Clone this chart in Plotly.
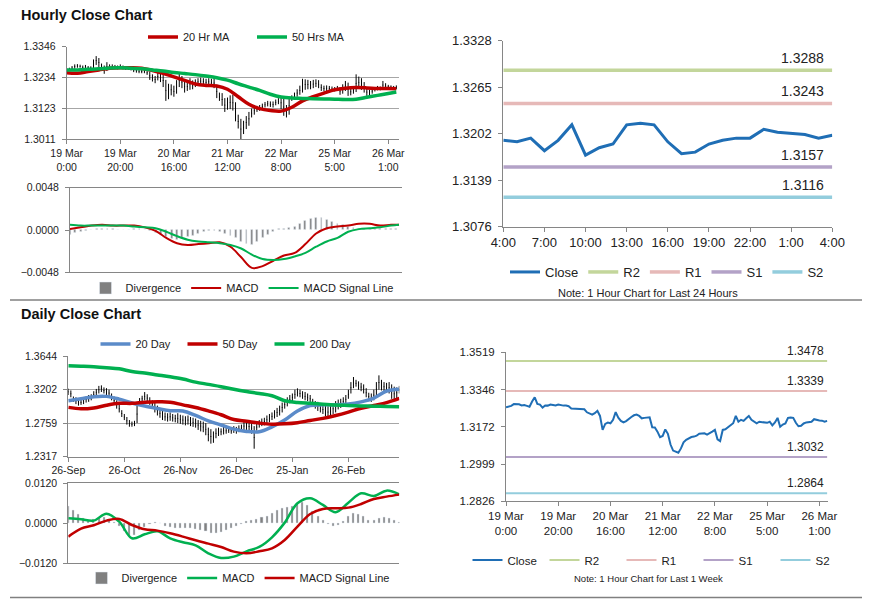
import plotly.graph_objects as go

W, H = 873, 601          # reference picture size
OFF = 8                  # the page body margin shifts the figure by 8 px
FW, FH = W - OFF, H - OFF

# ---------------- hourly data (trading hours, 19 Mar 0:00 .. 26 Mar 3:00) ----------------
hourly_close = [
    1.3263, 1.3266, 1.3270, 1.3278, 1.3279, 1.3277, 1.3272, 1.3274, 1.3270, 1.3266,
    1.3290, 1.3310, 1.3279, 1.3276, 1.3262, 1.3272, 1.3271, 1.3276, 1.3274, 1.3272,
    1.3276, 1.3272, 1.3271, 1.3271, 1.3268, 1.3258, 1.3257, 1.3257, 1.3256, 1.3257,
    1.3254, 1.3240, 1.3233, 1.3229, 1.3236, 1.3247, 1.3223, 1.3158, 1.3186, 1.3192,
    1.3189, 1.3205, 1.3241, 1.3215, 1.3200, 1.3193, 1.3199, 1.3210, 1.3218, 1.3226,
    1.3229, 1.3223, 1.3212, 1.3214, 1.3215, 1.3217, 1.3170, 1.3169, 1.3150, 1.3124,
    1.3130, 1.3160, 1.3140, 1.3090, 1.3062, 1.3055, 1.3052, 1.3072, 1.3100, 1.3112,
    1.3120, 1.3125, 1.3127, 1.3131, 1.3140, 1.3142, 1.3142, 1.3136, 1.3145, 1.3150,
    1.3158, 1.3114, 1.3106, 1.3158, 1.3161, 1.3170, 1.3180, 1.3189, 1.3223, 1.3196,
    1.3205, 1.3200, 1.3212, 1.3223, 1.3205, 1.3196, 1.3189, 1.3196, 1.3194,
    1.3193, 1.3191, 1.3196, 1.3179, 1.3193, 1.3214, 1.3173, 1.3183, 1.3188, 1.3214,
    1.3216, 1.3214, 1.3191, 1.3175, 1.3177, 1.3188, 1.3193, 1.3196, 1.3196, 1.3208,
    1.3204, 1.3202, 1.3201, 1.3196, 1.3200,
]
hourly_high = [
    1.3268, 1.3270, 1.3276, 1.3282, 1.3283, 1.3281, 1.3278, 1.3280, 1.3276, 1.3275,
    1.3300, 1.3312, 1.3305, 1.3285, 1.3278, 1.3290, 1.3282, 1.3282, 1.3280, 1.3278,
    1.3282, 1.3278, 1.3276, 1.3275, 1.3274, 1.3270, 1.3266, 1.3264, 1.3262, 1.3262,
    1.3260, 1.3256, 1.3246, 1.3240, 1.3252, 1.3256, 1.3248, 1.3226, 1.3212, 1.3210,
    1.3205, 1.3225, 1.3248, 1.3240, 1.3222, 1.3218, 1.3232, 1.3224, 1.3228, 1.3232,
    1.3234, 1.3232, 1.3230, 1.3232, 1.3230, 1.3234, 1.3208, 1.3180, 1.3178, 1.3160,
    1.3162, 1.3170, 1.3172, 1.3145, 1.3100, 1.3085, 1.3078, 1.3095, 1.3110, 1.3122,
    1.3128, 1.3132, 1.3135, 1.3140, 1.3146, 1.3150, 1.3148, 1.3148, 1.3155, 1.3160,
    1.3166, 1.3160, 1.3135, 1.3165, 1.3170, 1.3180, 1.3192, 1.3205, 1.3230, 1.3228,
    1.3226, 1.3222, 1.3226, 1.3228, 1.3225, 1.3210, 1.3205, 1.3206, 1.3204, 1.3202,
    1.3200, 1.3204, 1.3200, 1.3210, 1.3222, 1.3216, 1.3196, 1.3200, 1.3246, 1.3238,
    1.3232, 1.3218, 1.3196, 1.3190, 1.3196, 1.3200, 1.3204, 1.3202, 1.3222, 1.3214,
    1.3208, 1.3206, 1.3204, 1.3206,
]
hourly_low = [
    1.3258, 1.3260, 1.3262, 1.3266, 1.3270, 1.3270, 1.3266, 1.3268, 1.3264, 1.3262,
    1.3264, 1.3280, 1.3272, 1.3268, 1.3248, 1.3258, 1.3262, 1.3266, 1.3266, 1.3264,
    1.3268, 1.3264, 1.3262, 1.3262, 1.3260, 1.3254, 1.3252, 1.3250, 1.3250, 1.3250,
    1.3244, 1.3226, 1.3220, 1.3214, 1.3224, 1.3218, 1.3200, 1.3150, 1.3156, 1.3170,
    1.3165, 1.3176, 1.3200, 1.3196, 1.3180, 1.3186, 1.3190, 1.3192, 1.3200, 1.3206,
    1.3210, 1.3208, 1.3204, 1.3206, 1.3205, 1.3196, 1.3160, 1.3150, 1.3132, 1.3110,
    1.3118, 1.3120, 1.3115, 1.3076, 1.3050, 1.3011, 1.3030, 1.3048, 1.3060, 1.3090,
    1.3100, 1.3110, 1.3114, 1.3118, 1.3126, 1.3130, 1.3128, 1.3126, 1.3134, 1.3138,
    1.3120, 1.3096, 1.3090, 1.3100, 1.3150, 1.3155, 1.3165, 1.3172, 1.3180, 1.3190,
    1.3192, 1.3192, 1.3196, 1.3200, 1.3196, 1.3186, 1.3184, 1.3186, 1.3186, 1.3184,
    1.3184, 1.3186, 1.3172, 1.3176, 1.3186, 1.3168, 1.3170, 1.3176, 1.3182, 1.3196,
    1.3190, 1.3180, 1.3168, 1.3170, 1.3176, 1.3184, 1.3188, 1.3188, 1.3192, 1.3194,
    1.3194, 1.3194, 1.3190, 1.3192,
]
hour_labels = ["19 Mar<br>0:00", "19 Mar<br>20:00", "20 Mar<br>16:00", "21 Mar<br>12:00",
               "22 Mar<br>8:00", "25 Mar<br>5:00", "26 Mar<br>1:00"]

# moving averages / MACD read every 4 hours
ma_hours = [0, 4, 8, 12, 16, 20, 24, 28, 32, 36, 40, 44, 48, 52, 56, 60,
            64, 68, 72, 76, 80, 84, 88, 92, 96, 100, 104, 108, 112, 116, 120, 123]
ma20_hr = [1.3252, 1.3250, 1.3256, 1.3262, 1.3268, 1.3270, 1.3270, 1.3268, 1.3260, 1.3250,
           1.3237, 1.3224, 1.3211, 1.3206, 1.3204, 1.3192, 1.3165, 1.3138, 1.3122, 1.3115,
           1.3113, 1.3127, 1.3150, 1.3165, 1.3178, 1.3190, 1.3196, 1.3198, 1.3197, 1.3195,
           1.3195, 1.3194]
ma50_hr = [1.3262, 1.3262, 1.3264, 1.3266, 1.3269, 1.3270, 1.3268, 1.3266, 1.3262, 1.3258,
           1.3253, 1.3249, 1.3245, 1.3240, 1.3234, 1.3225, 1.3212, 1.3200, 1.3188, 1.3174,
           1.3164, 1.3160, 1.3159, 1.3158, 1.3157, 1.3156, 1.3155, 1.3156, 1.3163, 1.3170,
           1.3177, 1.3182]
macd_hr = [0.0001, 0.0003, 0.0005, 0.0006, 0.0005, 0.0005, 0.0005, 0.0003, -0.0001, -0.0009,
           -0.0015, -0.0017, -0.0016, -0.0015, -0.0014, -0.0019, -0.0031, -0.0043, -0.0041, -0.0035,
           -0.0029, -0.0026, -0.0016, -0.0004, 0.0002, 0.0004, 0.0005, 0.0007, 0.0007, 0.0005,
           0.0006, 0.0006]
signal_hr = [0.0006, 0.0005, 0.0005, 0.0005, 0.0005, 0.0005, 0.0004, 0.0003, 0.0002, -0.0002,
             -0.0007, -0.0011, -0.0013, -0.0014, -0.0015, -0.0017, -0.0021, -0.0028, -0.0033, -0.0034,
             -0.0033, -0.0030, -0.0026, -0.0019, -0.0013, -0.0009, -0.0002, 0.0001, 0.0002, 0.0003,
             0.0005, 0.0006]
div_hours = list(range(0, 124, 2))
div_hr = [-0.0005, -0.0003, -0.0002, -0.0001, 0.0000, 0.0001, 0.0001, 0.0001, 0.0001, 0.0000,
          0.0000, 0.0000, 0.0001, 0.0001, 0.0000, -0.0001, -0.0003, -0.0005, -0.0008, -0.0010,
          -0.0011, -0.0009, -0.0008, -0.0006, -0.0004, -0.0002, -0.0001, -0.0001, -0.0002, -0.0004,
          -0.0006, -0.0009, -0.0013, -0.0016, -0.0017, -0.0013, -0.0009, -0.0005, -0.0002, 0.0001,
          0.0002, 0.0003, 0.0004, 0.0007, 0.0011, 0.0013, 0.0014, 0.0014, 0.0012, 0.0009,
          0.0007, 0.0006, 0.0004, 0.0003, 0.0002, 0.0002, 0.0002, 0.0001, 0.0001, 0.0001,
          0.0001, 0.0001]

# last 24 hours (4:00 .. 4:00) and pivot levels
day_hour_labels = ["4:00", "7:00", "10:00", "13:00", "16:00", "19:00", "22:00", "1:00", "4:00"]
levels_24h = {"R2": 1.3288, "R1": 1.3243, "S1": 1.3157, "S2": 1.3116}
levels_week = {"R2": 1.3478, "R1": 1.3339, "S1": 1.3032, "S2": 1.2864}

# ---------------- daily data (26 Sep .. late Mar) ----------------
day_high = [
    1.3214, 1.3190, 1.3110, 1.3100, 1.3080, 1.3070, 1.3100, 1.3110, 1.3130, 1.3140,
    1.3180, 1.3210, 1.3250, 1.3257, 1.3230, 1.3220, 1.3200, 1.3150, 1.3110, 1.3060,
    1.3000, 1.2930, 1.2880, 1.2840, 1.2800, 1.2780, 1.2790, 1.3000, 1.3090, 1.3120,
    1.3169, 1.3140, 1.3100, 1.3060, 1.3030, 1.2990, 1.2950, 1.2920, 1.2900, 1.2890,
    1.2900, 1.2880, 1.2870, 1.2890, 1.2870, 1.2860, 1.2850, 1.2860, 1.2840, 1.2830,
    1.2820, 1.2800, 1.2790, 1.2780, 1.2760, 1.2700, 1.2680, 1.2650, 1.2690, 1.2700,
    1.2690, 1.2710, 1.2700, 1.2710, 1.2700, 1.2720, 1.2710, 1.2730, 1.2740, 1.2780,
    1.2800, 1.2790, 1.2770, 1.2720, 1.2760, 1.2800, 1.2820, 1.2830, 1.2860, 1.2880,
    1.2900, 1.2930, 1.2960, 1.2990, 1.3030, 1.3060, 1.3100, 1.3130, 1.3150, 1.3200,
    1.3218, 1.3200, 1.3180, 1.3170, 1.3150, 1.3130, 1.3080, 1.3050, 1.3040, 1.3020,
    1.3000, 1.2990, 1.2980, 1.2990, 1.3020, 1.3050, 1.3070, 1.3080, 1.3100, 1.3130,
    1.3200, 1.3300, 1.3367, 1.3330, 1.3310, 1.3290, 1.3270, 1.3220, 1.3160, 1.3150,
    1.3200, 1.3300, 1.3389, 1.3330, 1.3300, 1.3290, 1.3300, 1.3270, 1.3240, 1.3230,
    1.3250,
]
day_low = [
    1.3130, 1.3100, 1.3040, 1.3010, 1.2990, 1.3000, 1.3010, 1.3030, 1.3040, 1.3060,
    1.3090, 1.3120, 1.3150, 1.3170, 1.3150, 1.3130, 1.3110, 1.3060, 1.3010, 1.2950,
    1.2900, 1.2840, 1.2800, 1.2740, 1.2712, 1.2712, 1.2720, 1.2760, 1.2990, 1.3040,
    1.3060, 1.3040, 1.3000, 1.2960, 1.2900, 1.2860, 1.2830, 1.2800, 1.2790, 1.2780,
    1.2790, 1.2780, 1.2770, 1.2760, 1.2750, 1.2740, 1.2730, 1.2740, 1.2720, 1.2710,
    1.2700, 1.2670, 1.2650, 1.2640, 1.2600, 1.2520, 1.2489, 1.2500, 1.2560, 1.2590,
    1.2600, 1.2610, 1.2620, 1.2630, 1.2620, 1.2630, 1.2620, 1.2640, 1.2650, 1.2660,
    1.2670, 1.2640, 1.2620, 1.2422, 1.2660, 1.2700, 1.2720, 1.2730, 1.2750, 1.2770,
    1.2800, 1.2820, 1.2840, 1.2860, 1.2900, 1.2950, 1.2980, 1.3020, 1.3050, 1.3080,
    1.3110, 1.3100, 1.3080, 1.3060, 1.3050, 1.3030, 1.2980, 1.2950, 1.2920, 1.2900,
    1.2880, 1.2850, 1.2830, 1.2840, 1.2880, 1.2900, 1.2940, 1.2960, 1.2990, 1.3020,
    1.3080, 1.3150, 1.3220, 1.3240, 1.3200, 1.3180, 1.3150, 1.3100, 1.3060, 1.3040,
    1.3060, 1.3120, 1.3200, 1.3190, 1.3180, 1.3160, 1.3150, 1.3080, 1.3050, 1.3090,
    1.3150,
]
day_labels = ["26-Sep", "26-Oct", "26-Nov", "26-Dec", "25-Jan", "26-Feb"]

dma_days = list(range(0, 131, 5))
dma20 = [1.3055, 1.3082, 1.3108, 1.3112, 1.3075, 1.3025, 1.2985, 1.2952, 1.2922, 1.2920,
         1.2860, 1.2790, 1.2735, 1.2680, 1.2650, 1.2645, 1.2710, 1.2800, 1.2920, 1.2990,
         1.3000, 1.3000, 1.3010, 1.3040, 1.3090, 1.3180, 1.3205]
dma50 = [1.2967, 1.2948, 1.2960, 1.2995, 1.3020, 1.3020, 1.3035, 1.3040, 1.3036, 1.3000,
         1.2965, 1.2920, 1.2870, 1.2808, 1.2785, 1.2760, 1.2745, 1.2750, 1.2765, 1.2795,
         1.2822, 1.2860, 1.2905, 1.2955, 1.2992, 1.3030, 1.3086]
dma200 = [1.3517, 1.3510, 1.3502, 1.3490, 1.3475, 1.3440, 1.3420, 1.3395, 1.3370, 1.3340,
          1.3300, 1.3270, 1.3240, 1.3205, 1.3175, 1.3150, 1.3120, 1.3055, 1.3032, 1.3020,
          1.3008, 1.2998, 1.2992, 1.2986, 1.2982, 1.2980, 1.2976]
dmacd = [0.0015, 0.0012, 0.0008, 0.0029, 0.0005, -0.0045, -0.0033, -0.0024, -0.0045, -0.0057,
         -0.0066, -0.0090, -0.0104, -0.0100, -0.0084, -0.0071, -0.0042, 0.0002, 0.0060, 0.0075,
         0.0055, 0.0033, 0.0062, 0.0090, 0.0082, 0.0098, 0.0087]
dsignal = [-0.0040, -0.0016, -0.0006, 0.0008, 0.0013, -0.0005, -0.0018, -0.0022, -0.0030, -0.0040,
           -0.0051, -0.0061, -0.0071, -0.0085, -0.0090, -0.0084, -0.0075, -0.0050, -0.0010, 0.0028,
           0.0043, 0.0045, 0.0047, 0.0058, 0.0073, 0.0080, 0.0086]
ddiv_days = list(range(0, 131, 2))
ddiv = [0.0050, 0.0040, 0.0028, 0.0015, 0.0008, 0.0012, 0.0018, 0.0018, 0.0012, 0.0004,
        -0.0010, -0.0025, -0.0038, -0.0035, -0.0022, -0.0012, -0.0003, 0.0003, 0.0000, -0.0008,
        -0.0013, -0.0014, -0.0016, -0.0016, -0.0016, -0.0017, -0.0020, -0.0025, -0.0030, -0.0030,
        -0.0028, -0.0022, -0.0016, -0.0010, -0.0002, 0.0005, 0.0010, 0.0013, 0.0018, 0.0022,
        0.0030, 0.0038, 0.0045, 0.0048, 0.0052, 0.0060, 0.0062, 0.0055, 0.0035, 0.0020,
        0.0008, -0.0003, -0.0008, -0.0005, 0.0005, 0.0020, 0.0030, 0.0028, 0.0020, 0.0008,
        0.0010, 0.0015, 0.0017, 0.0016, 0.0008, 0.0004]

# ---------------- styling ----------------
FONT = "Liberation Sans, Arial, sans-serif"
AX = "#868686"
GRID = "#A6A6A6"
RED = "#C00000"
GREEN = "#00B050"
BLUE = "#1F6EB5"
DBLUE = "#5B8BC9"
GREY = "#808080"
LEVEL_COLORS = {"R2": "#C3D69B", "R1": "#E6B9B8", "S1": "#B3A2C7", "S2": "#93CDDD"}


def px_x(px):
    return (px - OFF) / FW


def px_y(py):
    return 1 - (py - OFF) / FH


def xdom(a, b):
    return [px_x(a), px_x(b)]


def ydom(top, bottom):
    return [px_y(bottom), px_y(top)]


hour_idx = list(range(len(hourly_close)))
day_idx = list(range(len(day_high)))
last24 = hourly_close[-25:]
last24_idx = list(range(len(last24)))

fig = go.Figure()

# hourly close chart
h_mid = [(a + b) / 2 for a, b in zip(hourly_high, hourly_low)]
fig.add_trace(go.Scatter(
    x=hour_idx, y=h_mid, mode="markers", marker=dict(size=1, color="black"),
    error_y=dict(type="data", symmetric=True, array=[(a - b) / 2 for a, b in zip(hourly_high, hourly_low)],
                 color="black", thickness=1, width=0),
    showlegend=False, hoverinfo="skip", xaxis="x", yaxis="y"))
fig.add_trace(go.Scatter(x=ma_hours, y=ma20_hr, name="20 Hr MA", mode="lines",
                         line=dict(color=RED, width=3.5, shape="spline"), xaxis="x", yaxis="y", legend="legend"))
fig.add_trace(go.Scatter(x=ma_hours, y=ma50_hr, name="50 Hrs MA", mode="lines",
                         line=dict(color=GREEN, width=3.5, shape="spline"), xaxis="x", yaxis="y", legend="legend"))

# hourly MACD
fig.add_trace(go.Bar(x=div_hours, y=div_hr, name="Divergence", marker_color=GREY, width=0.7,
                     xaxis="x2", yaxis="y2", legend="legend2"))
fig.add_trace(go.Scatter(x=ma_hours, y=macd_hr, name="MACD", mode="lines",
                         line=dict(color=RED, width=2, shape="spline"), xaxis="x2", yaxis="y2", legend="legend2"))
fig.add_trace(go.Scatter(x=ma_hours, y=signal_hr, name="MACD Signal Line", mode="lines",
                         line=dict(color=GREEN, width=2, shape="spline"), xaxis="x2", yaxis="y2", legend="legend2"))

# last 24 hours
fig.add_trace(go.Scatter(x=last24_idx, y=last24, name="Close", mode="lines",
                         line=dict(color=BLUE, width=3), xaxis="x3", yaxis="y3", legend="legend3"))
for name, val in levels_24h.items():
    fig.add_trace(go.Scatter(x=[last24_idx[0], last24_idx[-1]], y=[val, val], name=name, mode="lines",
                             line=dict(color=LEVEL_COLORS[name], width=3.5), xaxis="x3", yaxis="y3",
                             legend="legend3"))
    fig.add_annotation(x=last24_idx[-1], y=val, xref="x3", yref="y3", text=f"{val:.4f}",
                       showarrow=False, xanchor="right", yanchor="bottom", xshift=-6, yshift=2,
                       font=dict(family=FONT, size=14, color="#222"))

# daily close chart
d_mid = [(a + b) / 2 for a, b in zip(day_high, day_low)]
fig.add_trace(go.Scatter(
    x=day_idx, y=d_mid, mode="markers", marker=dict(size=1, color="black"),
    error_y=dict(type="data", symmetric=True, array=[(a - b) / 2 for a, b in zip(day_high, day_low)],
                 color="black", thickness=1, width=0),
    showlegend=False, hoverinfo="skip", xaxis="x4", yaxis="y4"))
fig.add_trace(go.Scatter(x=dma_days, y=dma20, name="20 Day", mode="lines",
                         line=dict(color=DBLUE, width=3.5, shape="spline"), xaxis="x4", yaxis="y4", legend="legend4"))
fig.add_trace(go.Scatter(x=dma_days, y=dma50, name="50 Day", mode="lines",
                         line=dict(color=RED, width=3.5, shape="spline"), xaxis="x4", yaxis="y4", legend="legend4"))
fig.add_trace(go.Scatter(x=dma_days, y=dma200, name="200 Day", mode="lines",
                         line=dict(color=GREEN, width=3.5, shape="spline"), xaxis="x4", yaxis="y4", legend="legend4"))

# daily MACD
fig.add_trace(go.Bar(x=ddiv_days, y=ddiv, name="Divergence", marker_color=GREY, width=0.8,
                     xaxis="x5", yaxis="y5", legend="legend5"))
fig.add_trace(go.Scatter(x=dma_days, y=dmacd, name="MACD", mode="lines",
                         line=dict(color=GREEN, width=2.5, shape="spline"), xaxis="x5", yaxis="y5", legend="legend5"))
fig.add_trace(go.Scatter(x=dma_days, y=dsignal, name="MACD Signal Line", mode="lines",
                         line=dict(color=RED, width=2.5, shape="spline"), xaxis="x5", yaxis="y5", legend="legend5"))

# one week hourly
fig.add_trace(go.Scatter(x=hour_idx, y=hourly_close, name="Close", mode="lines",
                         line=dict(color=BLUE, width=2), xaxis="x6", yaxis="y6", legend="legend6"))
for name, val in levels_week.items():
    fig.add_trace(go.Scatter(x=[hour_idx[0], hour_idx[-1]], y=[val, val], name=name, mode="lines",
                             line=dict(color=LEVEL_COLORS[name], width=2), xaxis="x6", yaxis="y6",
                             legend="legend6"))
    fig.add_annotation(x=hour_idx[-1], y=val, xref="x6", yref="y6", text=f"{val:.4f}",
                       showarrow=False, xanchor="right", yanchor="bottom", xshift=-1, yshift=1,
                       font=dict(family=FONT, size=12, color="#222"))


def yax(dom, rng, vals, grid, anchor, size=10.5):
    return dict(domain=dom, range=rng, tickvals=vals, tickformat=".4f", anchor=anchor, showgrid=grid,
                gridcolor=GRID, gridwidth=1, zeroline=False, showline=True, linecolor=AX, linewidth=1,
                ticks="outside", ticklen=4, tickcolor=AX, tickfont=dict(family=FONT, size=size, color="#222"),
                ticklabelstandoff=4, fixedrange=True)


def xax(dom, rng, vals=None, text=None, anchor="y", size=10.5, mirror=False):
    d = dict(domain=dom, range=rng, anchor=anchor, showgrid=False, zeroline=False, showline=True,
             linecolor=AX, linewidth=1, mirror=mirror, fixedrange=True,
             tickfont=dict(family=FONT, size=size, color="#222"))
    if vals is None:
        d.update(showticklabels=False, ticks="")
    else:
        d.update(tickvals=vals, ticktext=text, ticks="outside", ticklen=4, tickcolor=AX, tickangle=0)
    return d


def legend_at(xc, yc, size=11, entry=0):
    return dict(x=px_x(xc), y=px_y(yc), xanchor="center", yanchor="middle", orientation="h",
                font=dict(family=FONT, size=size, color="#222"), itemwidth=30, entrywidth=entry,
                bgcolor="rgba(0,0,0,0)", tracegroupgap=0)


fig.update_layout(
    width=FW, height=FH, margin=dict(l=0, r=0, t=0, b=0, autoexpand=False),
    paper_bgcolor="white", plot_bgcolor="white", barmode="overlay", bargap=0,
    showlegend=True,
    xaxis=xax(xdom(66.7, 399), [0, 124], hour_idx[::20], hour_labels, anchor="y"),
    yaxis=yax(ydom(46.7, 139.3), [1.3011, 1.3346], [1.3011, 1.3123, 1.3234, 1.3346], True, "x"),
    xaxis2=xax(xdom(70, 401.7), [0, 124], anchor="y2", mirror=True),
    yaxis2=yax(ydom(187.7, 272.3), [-0.0048, 0.0048], [-0.0048, 0.0, 0.0048], False, "x2"),
    xaxis3=xax(xdom(503.3, 832.3), [0, 24], last24_idx[::3], day_hour_labels, anchor="y3", size=13),
    yaxis3=yax(ydom(40.7, 226.7), [1.3076, 1.3328], [1.3076, 1.3139, 1.3202, 1.3265, 1.3328], False, "x3",
               size=13),
    xaxis4=xax(xdom(68.3, 399.3), [0, 130], day_idx[::22], day_labels, anchor="y4"),
    yaxis4=yax(ydom(356, 456.7), [1.2317, 1.3644], [1.2317, 1.2759, 1.3202, 1.3644], True, "x4"),
    xaxis5=xax(xdom(68.3, 399.3), [0, 130], anchor="y5", mirror=True),
    yaxis5=yax(ydom(483.3, 563.3), [-0.012, 0.012], [-0.012, 0.0, 0.012], False, "x5"),
    xaxis6=xax(xdom(506, 827.7), [0, 123.2], hour_idx[::20], hour_labels, anchor="y6", size=11.5),
    yaxis6=yax(ydom(352.3, 501.3), [1.2826, 1.3519], [1.2826, 1.2999, 1.3172, 1.3346, 1.3519], False, "x6",
               size=11.5),
    legend=legend_at(252, 37, entry=64),
    legend2=legend_at(242, 288),
    legend3=legend_at(667, 272, size=13),
    legend4=legend_at(226, 344, entry=42),
    legend5=legend_at(238, 578),
    legend6=legend_at(660, 560, size=11.5, entry=32),
)

# section titles, notes and separators
fig.add_annotation(x=px_x(19), y=px_y(15), xref="paper", yref="paper", text="<b>Hourly Close Chart</b>",
                   showarrow=False, xanchor="left", yanchor="middle",
                   font=dict(family=FONT, size=14.5, color="#111"))
fig.add_annotation(x=px_x(19), y=px_y(313.5), xref="paper", yref="paper", text="<b>Daily Close Chart</b>",
                   showarrow=False, xanchor="left", yanchor="middle",
                   font=dict(family=FONT, size=14.5, color="#111"))
fig.add_annotation(x=px_x(648), y=px_y(293), xref="paper", yref="paper",
                   text="Note: 1 Hour Chart for Last 24 Hours", showarrow=False, xanchor="center",
                   yanchor="middle", font=dict(family=FONT, size=11, color="#222"))
fig.add_annotation(x=px_x(648), y=px_y(578.5), xref="paper", yref="paper",
                   text="Note: 1 Hour Chart for Last 1 Week", showarrow=False, xanchor="center",
                   yanchor="middle", font=dict(family=FONT, size=9.5, color="#222"))
for yy in (300, 597.5):
    fig.add_shape(type="line", xref="paper", yref="paper", x0=px_x(10), x1=px_x(862),
                  y0=px_y(yy), y1=px_y(yy), line=dict(color=GREY, width=1.5))

fig.write_html("out.html")
